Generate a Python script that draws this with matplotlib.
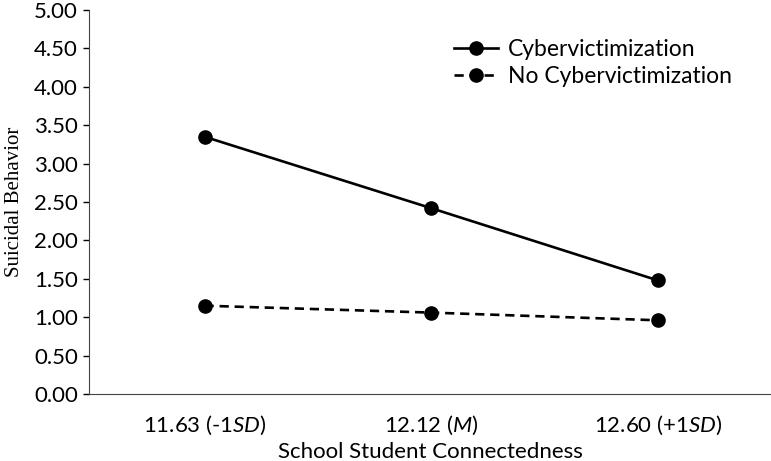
import matplotlib.pyplot as plt

categories = ["11.63 (-1$\\mathit{SD}$)", "12.12 ($\\mathit{M}$)", "12.60 (+1$\\mathit{SD}$)"]
cyber = [3.35, 2.42, 1.48]
no_cyber = [1.15, 1.06, 0.96]
yticks = [0.0, 0.5, 1.0, 1.5, 2.0, 2.5, 3.0, 3.5, 4.0, 4.5, 5.0]

plt.rcParams['font.family'] = ['Lato', 'DejaVu Sans']
plt.rcParams['mathtext.fontset'] = 'custom'
plt.rcParams['mathtext.it'] = 'Lato:italic'
plt.rcParams['mathtext.rm'] = 'Lato'

fig = plt.figure(figsize=(7.71, 4.61), dpi=100)
ax = fig.add_axes([0.1154, 0.1453, 0.8846, 0.8330])

x = list(range(len(categories)))
ax.plot(x, cyber, color="black", lw=1.9, marker="o", ms=9.5, label="Cybervictimization")
ax.plot(x, no_cyber, color="black", lw=1.9, ls=(0, (3.5, 2.2)), marker="o", ms=9.5,
        label="No Cybervictimization")

ax.set_xlim(-0.51, 2.5)
ax.set_ylim(0, 5)
ax.set_xticks(x)
ax.set_xticklabels(categories, fontsize=16)
ax.set_yticks(yticks)
ax.set_yticklabels([f"{v:.2f}" for v in yticks], fontsize=16)
ax.tick_params(axis="x", length=0, pad=14)
ax.tick_params(axis="y", length=4, width=1, pad=4)

for s in ["top", "right"]:
    ax.spines[s].set_visible(False)
ax.spines["left"].set_color("#444444")
ax.spines["bottom"].set_color("#444444")

ax.set_xlabel("School Student Connectedness", fontsize=16, labelpad=4)
ax.set_ylabel("Suicidal Behavior", fontsize=15, family="Liberation Serif", labelpad=7)

ax.legend(loc="upper left", bbox_to_anchor=(0.505, 0.978), frameon=False, fontsize=16.5,
          handlelength=1.9, handletextpad=0.45, labelspacing=0.25)

fig.savefig("out.png", dpi=100)
